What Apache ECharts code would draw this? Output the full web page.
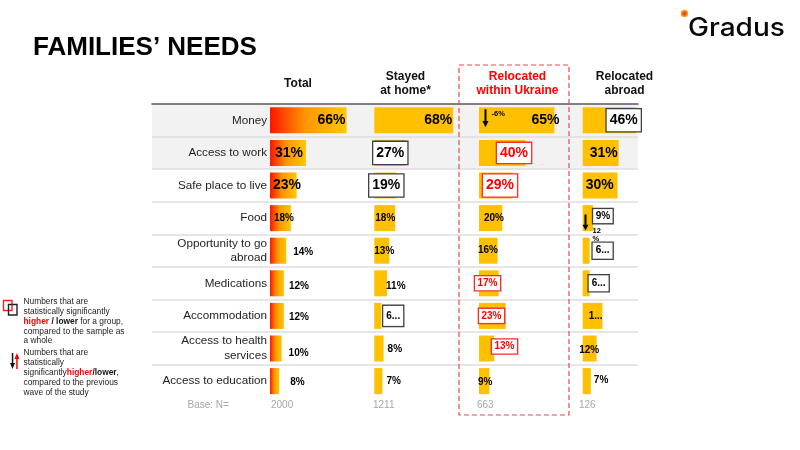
<!DOCTYPE html>
<html>
<head>
<meta charset="utf-8">
<script src="https://cdn.jsdelivr.net/npm/echarts@6/dist/echarts.min.js"></script>
<style>
  html, body { margin: 0; padding: 0; background: #fff; }
  #main { width: 800px; height: 450px; }
</style>
</head>
<body>
<div id="main"></div>
<script>
  // data
  var categories = ['Money', 'Access to work', 'Safe place to live', 'Food', 'Opportunity to go\nabroad',
    'Medications', 'Accommodation', 'Access to health\nservices', 'Access to education'];
  var groups = ['Total', 'Stayed\nat home*', 'Relocated\nwithin Ukraine', 'Relocated\nabroad'];
  var total = [66, 31, 23, 18, 14, 12, 12, 10, 8];
  var stayedHome = [68, 27, 19, 18, 13, 11, 6, 8, 7];
  var withinUkraine = [65, 40, 29, 20, 16, 17, 23, 13, 9];
  var abroad = [46, 31, 30, 9, 6, 6, 17, 12, 7];
  // change vs previous wave (arrows)
  var changeWithin = [-6, null, null, null, null, null, null, null, null];
  var changeAbroad = [null, null, null, -12, null, null, null, null, null];
  var baseN = [2000, 1211, 663, 126];

  var FONT = '"Liberation Sans", Arial, sans-serif';
  var RED = '#ff0000';
  var GOLD = '#ffc000';
  var colLeft = [270, 374.3, 479, 582.7];
  var headX = [298, 405.5, 517.5, 624.5];
  var baseX = [271, 373, 477, 579];
  var TOP = 104, H = 293.4;

  // label placement per column / row
  var specs = [
    [ {p:'insideRight', d:1, s:'big'}, {p:'insideLeft', d:5, s:'big'}, {p:'insideLeft', d:3, s:'big'},
      {p:'insideLeft', d:4}, {p:'right', d:7, dy:1.5}, {p:'right', d:5, dy:2.5},
      {p:'right', d:5, dy:1}, {p:'right', d:7, dy:5}, {p:'right', d:11, dy:1.5} ],
    [ {p:'insideRight', d:1, s:'big'}, {p:'insideLeft', d:-1, s:'big', box:'k', pad:[3,3]},
      {p:'insideLeft', d:-5, s:'big', box:'k', pad:[3,3]}, {p:'insideLeft', d:1}, {p:'insideLeft', d:0, dy:0.5},
      {p:'right', d:-1, dy:2.5}, {p:'right', d:2, box:'k', pad:[4,3], trunc:true},
      {p:'right', d:4, dy:0.5}, {p:'right', d:4} ],
    [ {p:'insideRight', d:1, dx:6, s:'big'}, {p:'insideLeft', d:18, s:'big', box:'r', pad:[2,3]},
      {p:'insideLeft', d:4, s:'big', box:'r', pad:[3,3]}, {p:'insideLeft', d:5}, {p:'insideLeft', d:-1},
      {p:'insideLeft', d:-4, box:'r', pad:[1,2.5]}, {p:'insideLeft', d:0, box:'r', pad:[1,2.5]},
      {p:'insideLeft', d:13, dy:-2, box:'r', pad:[1,2.5]}, {p:'insideLeft', d:-1, dy:1.5} ],
    [ {p:'insideLeft', d:24, s:'big', box:'k', pad:[3,3]}, {p:'insideLeft', d:7, s:'big'},
      {p:'insideLeft', d:3, s:'big'}, {p:'right', d:0, dy:-2, box:'k', pad:[1,2.5]},
      {p:'right', d:3, box:'k', pad:[2,3], trunc:true}, {p:'insideLeft', d:6, box:'k', pad:[2,3], trunc:true},
      {p:'insideLeft', d:6, trunc:true}, {p:'insideLeft', d:-3.5, dy:1.5}, {p:'right', d:3, dy:-1} ]
  ];

  function cellLabel(s, v) {
    var big = s.s === 'big';
    var lab = {
      show: true,
      position: s.p,
      distance: s.d || 0,
      offset: [s.dx || 0, s.dy || 0],
      fontFamily: FONT,
      fontWeight: 'bold',
      fontSize: big ? 14 : 10,
      lineHeight: big ? 16 : 12,
      color: s.box === 'r' ? RED : '#000',
      formatter: s.trunc ? String(v).charAt(0) + '...' : v + '%'
    };
    if (s.box) {
      lab.backgroundColor = '#fff';
      lab.borderColor = s.box === 'r' ? '#ff2a2a' : '#404040';
      lab.borderWidth = 1.3;
      lab.padding = s.pad;
    }
    return lab;
  }

  var ARROW = 'path://M2,0 L4,0 L4,11 L6,11 L3,17 L0,11 L2,11 Z';
  function changeMarks(change, fmt, place) {
    var out = [];
    change.forEach(function (c, k) {
      if (c == null) return;
      out.push({
        coord: [0, k],
        symbol: ARROW,
        symbolSize: place.size,
        symbolOffset: place.off,
        itemStyle: { color: c < 0 ? '#000' : RED },
        label: {
          show: true, position: 'right', distance: place.dist, offset: place.lab,
          formatter: fmt(c), fontFamily: FONT, fontWeight: 'bold', fontSize: 7.5, lineHeight: 8.5, color: '#000'
        }
      });
    });
    return out;
  }

  var columns = [total, stayedHome, withinUkraine, abroad];
  var totalGrad = {
    type: 'linear', x: 0, y: 0, x2: 1, y2: 0,
    colorStops: [{offset: 0, color: '#ff1500'}, {offset: 0.45, color: '#ff9500'}, {offset: 1, color: '#ffc800'}]
  };

  var grid = [], xAxis = [], yAxis = [], series = [];
  columns.forEach(function (vals, i) {
    grid.push({ left: colLeft[i], top: TOP, width: 116, height: H });
    xAxis.push({ gridIndex: i, type: 'value', min: 0, max: 100, show: false });
    yAxis.push({
      gridIndex: i, type: 'category', data: categories, inverse: true,
      axisLine: {show: false}, axisTick: {show: false},
      axisLabel: { show: i === 0, interval: 0, margin: 3, fontFamily: FONT, fontSize: 11.7,
        color: '#1e1e1e', lineHeight: 14.5 }
    });
    var s = {
      type: 'bar', xAxisIndex: i, yAxisIndex: i, barWidth: 26, silent: true,
      itemStyle: { color: i === 0 ? totalGrad : GOLD },
      data: vals.map(function (v, k) { return { value: v, label: cellLabel(specs[i][k], v) }; })
    };
    if (i === 2) {
      s.markPoint = { silent: true, data: changeMarks(changeWithin, function (c) { return c + '%'; },
        { size: [6, 18], off: [6.5, -2], dist: 3, lab: [0, -4] }) };
    }
    if (i === 3) {
      s.markPoint = { silent: true, data: changeMarks(changeAbroad, function (c) { return Math.abs(c) + '\n%'; },
        { size: [6, 16], off: [2.8, 4.4], dist: 4, lab: [0, 12.5] }) };
    }
    series.push(s);
  });

  // background rows, separators and top rule
  grid.push({ left: 152, top: TOP, width: 486, height: H, z: 0 });
  xAxis.push({ gridIndex: 4, type: 'value', position: 'top', min: 0, max: 1,
    axisLine: {show: true, onZero: false, lineStyle: {color: '#595959', width: 1.5}},
    axisTick: {show: false}, axisLabel: {show: false}, splitLine: {show: false} });
  yAxis.push({ gridIndex: 4, type: 'category', data: categories, inverse: true,
    axisLine: {show: false}, axisTick: {show: false}, axisLabel: {show: false},
    splitLine: { show: true, interval: 0, showMinLine: false, showMaxLine: false,
      lineStyle: {color: '#dedede', width: 1.5} },
    splitArea: { show: true, interval: 0,
      areaStyle: { color: categories.map(function (c, k) { return k < 2 ? '#f2f2f2' : '#ffffff'; }) } } });

  var graphic = [
    { type: 'text', x: 33, y: 48, style: { text: 'FAMILIES\u2019 NEEDS', font: 'bold 26px ' + FONT, fill: '#000',
      textVerticalAlign: 'middle' } },
    { type: 'text', x: 688, y: 28.5, scaleX: 1.1, style: { text: 'Gradus', font: '500 25.5px Inter, "Liberation Sans", sans-serif',
      fill: '#0a0a0a', textVerticalAlign: 'middle' } },
    { type: 'circle', shape: { cx: 684.5, cy: 13.5, r: 3 }, style: { fill: '#ef4b24', stroke: '#f7a51c', lineWidth: 1.5 } },
    { type: 'rect', z: 100, shape: { x: 459, y: 65, width: 110, height: 350 },
      style: { fill: 'none', stroke: '#ee4848', lineWidth: 1.2, lineDash: [5, 3] } },
    { type: 'text', x: 187.5, y: 405, style: { text: 'Base: N=', font: '10px ' + FONT, fill: '#a6a6a6',
      textVerticalAlign: 'middle' } },
    // legend
    { type: 'rect', shape: { x: 3.5, y: 300.5, width: 8.5, height: 10 }, style: { fill: 'none', stroke: '#ff2020', lineWidth: 1.4 } },
    { type: 'rect', shape: { x: 8.5, y: 304.5, width: 8.5, height: 10.5 }, style: { fill: 'none', stroke: '#222', lineWidth: 1.4 } },
    { type: 'polygon', shape: { points: [[11.8,353],[13.3,353],[13.3,363],[15,363],[12.5,369],[10,363],[11.8,363]] },
      style: { fill: '#111' } },
    { type: 'polygon', shape: { points: [[16.2,369],[17.7,369],[17.7,359],[19.4,359],[16.9,353],[14.4,359],[16.2,359]] },
      style: { fill: RED } },
    { type: 'text', x: 23.5, y: 297, style: {
      text: 'Numbers that are\nstatistically significantly\n{r|higher} {b|/ lower} for a group,\ncompared to the sample as\na whole',
      font: '8.4px ' + FONT, fill: '#222', lineHeight: 9.8,
      rich: { r: { fill: RED, fontWeight: 'bold', fontSize: 8.4, fontFamily: FONT },
              b: { fill: '#111', fontWeight: 'bold', fontSize: 8.4, fontFamily: FONT } } } },
    { type: 'text', x: 23.5, y: 347.5, style: {
      text: 'Numbers that are\nstatistically\nsignificantly{r|higher}{b|/lower},\ncompared to the previous\nwave of the study',
      font: '8.4px ' + FONT, fill: '#222', lineHeight: 10,
      rich: { r: { fill: RED, fontWeight: 'bold', fontSize: 8.4, fontFamily: FONT },
              b: { fill: '#111', fontWeight: 'bold', fontSize: 8.4, fontFamily: FONT } } } }
  ];
  groups.forEach(function (g, i) {
    graphic.push({ type: 'text', x: headX[i], y: 84, style: { text: g, font: 'bold 12px ' + FONT,
      fill: i === 2 ? RED : '#111', textAlign: 'center', textVerticalAlign: 'middle', lineHeight: 14 } });
  });
  baseN.forEach(function (n, i) {
    graphic.push({ type: 'text', x: baseX[i], y: 405, style: { text: String(n), font: '10px ' + FONT,
      fill: '#a6a6a6', textVerticalAlign: 'middle' } });
  });

  var myChart = echarts.init(document.getElementById('main'));
  myChart.setOption({
    animation: false,
    backgroundColor: '#fff',
    grid: grid,
    xAxis: xAxis,
    yAxis: yAxis,
    series: series,
    graphic: graphic
  });
</script>
</body>
</html>
